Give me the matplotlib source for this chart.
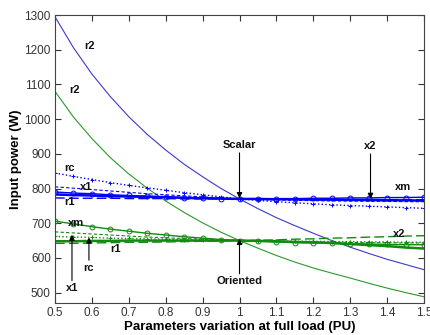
import matplotlib
matplotlib.use("Agg")
import matplotlib.pyplot as plt

plt.rcParams['font.family'] = ['Liberation Sans', 'DejaVu Sans']

x_pu = [0.50, 0.55, 0.60, 0.65, 0.70, 0.75, 0.80, 0.85, 0.90, 0.95, 1.00,
        1.05, 1.10, 1.15, 1.20, 1.25, 1.30, 1.35, 1.40, 1.45, 1.50]

# Scalar control (blue)
scalar_r2 = [1295, 1206, 1130, 1065, 1007, 956, 911, 870, 834, 800, 770,
             742, 716, 693, 671, 650, 631, 613, 596, 581, 566]
scalar_rc = [845, 835, 826, 817, 809, 802, 795, 788, 782, 776, 770,
             766, 762, 759, 756, 753, 751, 749, 747, 745, 743]
scalar_x1 = [805, 801, 797, 793, 789, 785, 782, 779, 776, 773, 770,
             768, 767, 766, 765, 764, 764, 763, 763, 762, 762]
scalar_xm = [790, 787, 785, 782, 780, 778, 776, 774, 773, 771, 770,
             770, 771, 771, 772, 772, 773, 773, 774, 774, 775]
scalar_r1 = [783, 781, 780, 778, 777, 776, 775, 773, 772, 771, 770,
             770, 769, 769, 768, 768, 767, 767, 766, 766, 765]
scalar_x2 = [773, 772, 772, 772, 771, 771, 771, 770, 770, 770, 770,
             770, 769, 769, 769, 769, 768, 768, 768, 768, 768]

# Oriented control (green)
oriented_r2 = [1080, 1006, 944, 889, 842, 801, 764, 731, 701, 674, 650,
               628, 607, 588, 571, 556, 542, 527, 513, 500, 488]
oriented_xm = [706, 698, 690, 683, 677, 671, 666, 661, 657, 653, 650,
               648, 646, 644, 643, 642, 641, 640, 639, 638, 638]
oriented_x1 = [675, 672, 669, 666, 663, 660, 658, 656, 654, 652, 650,
               649, 648, 647, 646, 645, 645, 644, 644, 643, 643]
oriented_rc = [662, 660, 659, 657, 656, 655, 654, 653, 652, 651, 650,
               649, 649, 648, 648, 647, 647, 646, 646, 645, 645]
oriented_r1 = [648, 648, 649, 649, 650, 650, 650, 650, 650, 650, 650,
               649, 648, 646, 645, 643, 640, 637, 634, 630, 627]
oriented_x2 = [642, 642, 643, 644, 645, 645, 646, 647, 648, 649, 650,
               651, 652, 654, 655, 657, 658, 660, 661, 663, 664]

BLUE = '#0000ff'
GREEN = '#108a10'

fig = plt.figure(figsize=(4.31, 3.35), dpi=100)
ax = fig.add_axes([0.1276, 0.0955, 0.8562, 0.8595])

ax.plot(x_pu, scalar_r2, color='#3a3ad0', lw=0.8)
ax.plot(x_pu, oriented_r2, color='#2a9a2a', lw=0.8)

def family(color, rc, x1, xm, r1, x2):
    ax.plot(x_pu, rc, color=color, ls=':', lw=1.0, marker='+', ms=3, mew=0.7)
    ax.plot(x_pu, x1, color=color, ls='--', lw=0.8, dashes=(3, 2))
    ax.plot(x_pu, xm, color=color, ls='-', lw=1.0, marker='o', ms=3.5,
            mfc='none', mew=0.7)
    ax.plot(x_pu, r1, color=color, ls='-', lw=1.8)
    ax.plot(x_pu, x2, color=color, ls='--', lw=1.0, dashes=(7, 3))

family(BLUE, scalar_rc, scalar_x1, scalar_xm, scalar_r1, scalar_x2)
family(GREEN, oriented_rc, oriented_x1, oriented_xm, oriented_r1, oriented_x2)

ax.set_xlim(0.5, 1.5)
ax.set_ylim(470, 1300)
ax.set_xticks([0.5, 0.6, 0.7, 0.8, 0.9, 1, 1.1, 1.2, 1.3, 1.4, 1.5])
ax.set_xticklabels(['0.5', '0.6', '0.7', '0.8', '0.9', '1', '1.1', '1.2',
                    '1.3', '1.4', '1.5'])
ax.set_yticks([500, 600, 700, 800, 900, 1000, 1100, 1200, 1300])
ax.tick_params(direction='in', top=True, right=True, length=4, width=0.8,
               labelsize=8.5, colors='#333333', pad=3)
for s in ax.spines.values():
    s.set_color('#444444')
    s.set_linewidth(0.8)

ax.set_xlabel('Parameters variation at full load (PU)', fontsize=9.5,
              fontweight='bold', labelpad=1)
ax.set_ylabel('Input power (W)', fontsize=9.5, fontweight='bold', labelpad=2)

tk = dict(fontsize=8, fontweight='bold', color='#111111')
ax.text(0.595, 1211, 'r2', ha='center', va='center', **tk)
ax.text(0.554, 1084, 'r2', ha='center', va='center', **tk)
ax.text(0.540, 860, 'rc', ha='center', va='center', **tk)
ax.text(0.583, 803, 'x1', ha='center', va='center', **tk)
ax.text(0.540, 762, 'r1', ha='center', va='center', **tk)
ax.text(0.558, 701, 'xm', ha='center', va='center', **tk)
ax.text(0.663, 627, 'r1', ha='center', va='center', **tk)
ax.text(1.443, 805, 'xm', ha='center', va='center', **tk)
ax.text(1.432, 668, 'x2', ha='center', va='center', **tk)

arrow = dict(arrowstyle='-|>', color='black', lw=0.8, mutation_scale=8,
             shrinkA=0, shrinkB=0)
ax.annotate('Scalar', xy=(1.0, 772), xytext=(1.0, 925), ha='center',
            va='center', arrowprops=arrow, **tk)
ax.annotate('x2', xy=(1.355, 770), xytext=(1.355, 922), ha='center',
            va='center', arrowprops=arrow, **tk)
ax.annotate('Oriented', xy=(1.0, 655), xytext=(1.0, 532), ha='center',
            va='center', arrowprops=arrow, **tk)
ax.annotate('x1', xy=(0.546, 667), xytext=(0.546, 512), ha='center',
            va='center', arrowprops=arrow, **tk)
ax.annotate('rc', xy=(0.592, 659), xytext=(0.592, 571), ha='center',
            va='center', arrowprops=arrow, **tk)

fig.savefig('out.png', dpi=100)
